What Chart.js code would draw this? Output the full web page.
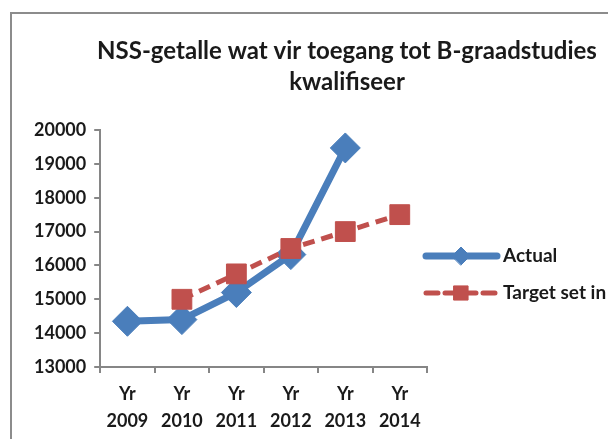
<!DOCTYPE html>
<html>
<head>
<meta charset="utf-8">
<script src="https://cdn.jsdelivr.net/npm/chart.js@4"></script>
<style>
  html, body { margin: 0; padding: 0; background: #fff; overflow: hidden; }
  #frame { position: absolute; left: 10px; top: 12px; width: 700px; height: 500px; border: 2px solid #8c8c8c; box-sizing: border-box; }
  #wrap { position: absolute; left: 0; top: 0; width: 700px; height: 447px; }
</style>
</head>
<body>
<div id="frame"></div>
<div id="wrap"><canvas id="chart"></canvas></div>
<script>
// --- DATA ---
const categories = [['Yr', '2009'], ['Yr', '2010'], ['Yr', '2011'], ['Yr', '2012'], ['Yr', '2013'], ['Yr', '2014']];
const actualValues = [14350, 14400, 15200, 16320, 19470, null];
const targetValues = [null, 15000, 15750, 16500, 17000, 17500];
const titleLines = ['NSS-getalle wat vir toegang tot B-graadstudies', 'kwalifiseer'];
const seriesNames = ['Actual', 'Target set in APP'];

const FONT = 'Lato, "Open Sans", sans-serif';
const BLUE = '#4a7ebb';
const RED = '#c0504d';

// title + legend drawn by hand so they can sit where Excel put them
const decor = {
    id: 'decor',
    afterDraw(chart) {
        const ctx = chart.ctx;
        ctx.save();
        ctx.fillStyle = '#1a1a1a';
        ctx.textAlign = 'center';
        ctx.textBaseline = 'middle';
        ctx.font = 'bold 24px ' + FONT;
        ctx.fillText(titleLines[0], 347, 51);
        ctx.fillText(titleLines[1], 347, 82);

        const ds = chart.data.datasets;
        const rows = [256, 293];
        const legendRadius = [9, 10];
        ds.forEach((d, i) => {
            const y = rows[i];
            ctx.strokeStyle = d.borderColor;
            ctx.lineWidth = d.borderWidth;
            ctx.lineCap = 'round';
            ctx.setLineDash(d.borderDash || []);
            ctx.beginPath();
            ctx.moveTo(426, y);
            ctx.lineTo(497, y);
            ctx.stroke();
            ctx.setLineDash([]);
            ctx.lineWidth = 1;
            ctx.fillStyle = d.backgroundColor;
            Chart.helpers.drawPoint(ctx, {
                pointStyle: d.pointStyle, radius: legendRadius[i], borderWidth: 1
            }, 461, y);
            ctx.fillStyle = '#1a1a1a';
            ctx.textAlign = 'left';
            ctx.font = 'bold 19px ' + FONT;
            ctx.fillText(seriesNames[i], 503, y);
        });
        ctx.restore();
    }
};

new Chart(document.getElementById('chart'), {
    type: 'line',
    data: {
        labels: categories,
        datasets: [{
            label: seriesNames[0],
            data: actualValues,
            borderColor: BLUE,
            backgroundColor: BLUE,
            borderWidth: 7,
            pointStyle: 'rectRot',
            pointRadius: 15,
            pointBorderWidth: 1,
            pointBorderColor: BLUE,
            pointBackgroundColor: BLUE,
            tension: 0,
            order: 1
        }, {
            label: seriesNames[1],
            data: targetValues,
            borderColor: RED,
            backgroundColor: RED,
            borderWidth: 5,
            borderDash: [12, 7],
            pointStyle: 'rect',
            pointRadius: 14,
            pointBorderWidth: 1,
            pointBorderColor: RED,
            pointBackgroundColor: RED,
            tension: 0,
            order: 0
        }]
    },
    options: {
        responsive: true,
        maintainAspectRatio: false,
        animation: false,
        spanGaps: false,
        layout: { padding: { top: 130, left: 26, right: 273, bottom: 4 } },
        plugins: {
            legend: { display: false },
            title: { display: false },
            tooltip: { enabled: false }
        },
        scales: {
            x: {
                offset: true,
                grid: { display: true, offset: true, drawOnChartArea: false, tickLength: 6, color: '#868686', lineWidth: 2 },
                border: { color: '#868686', width: 2 },
                ticks: { color: '#1a1a1a', font: { family: FONT, size: 18, weight: 'bold', lineHeight: 1.5 }, padding: 8, maxRotation: 0 }
            },
            y: {
                min: 13000,
                max: 20000,
                ticks: {
                    stepSize: 1000,
                    color: '#1a1a1a',
                    font: { family: FONT, size: 18, weight: 'bold' },
                    padding: 8,
                    callback: v => String(v)
                },
                grid: { display: true, drawOnChartArea: false, tickLength: 6, color: '#868686', lineWidth: 2 },
                border: { color: '#868686', width: 2 }
            }
        }
    },
    plugins: [decor]
});
</script>
</body>
</html>
